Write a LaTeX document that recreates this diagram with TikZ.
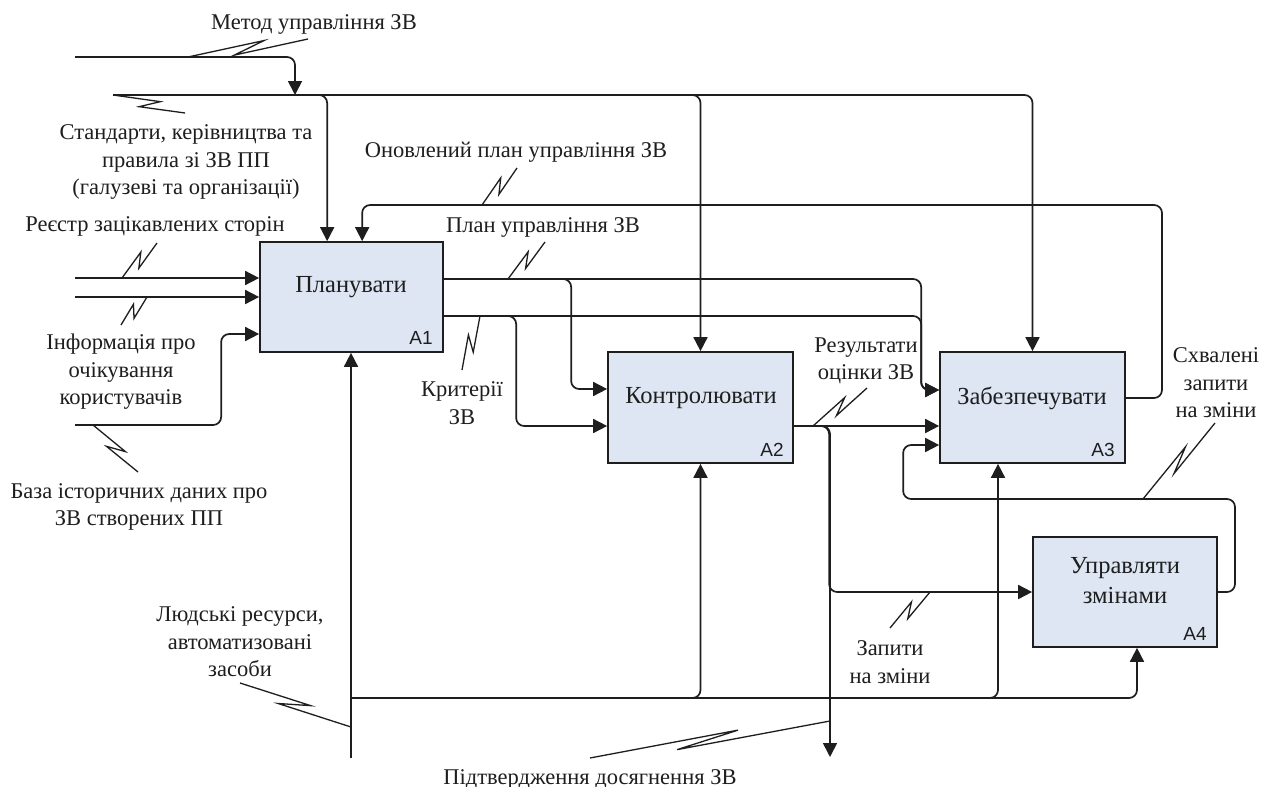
\documentclass[tikz,border=0pt]{standalone}
\usepackage{fontspec}
\setmainfont{Liberation Serif}
\newfontfamily\idsans{Liberation Sans}
\usetikzlibrary{arrows.meta,calc}
\definecolor{boxfill}{RGB}{221,230,242}
\definecolor{ink}{RGB}{30,30,30}

% IDEF0 squiggle tying a label to its arrow
\newcommand{\squig}[2]{%
  \draw[squigline] (#1) -- ($(#1)!0.64!(#2)!5pt!90:(#2)$)
    -- ($(#1)!0.38!(#2)!5pt!-90:(#2)$) -- (#2);}

\begin{document}
\begin{tikzpicture}[x=1pt,y=-1pt,
  flow/.style={line width=1.7pt, draw=ink, rounded corners=8pt},
  arr/.style={flow, -{Triangle[length=14pt,width=14pt]}},
  squigline/.style={line width=1.3pt, draw=ink, line join=miter},
  fbox/.style={draw=ink, line width=1.7pt, fill=boxfill, inner sep=0pt},
  lbl/.style={font=\fontsize{22.5}{27.5}\selectfont, align=center, inner sep=0pt, text=ink},
  boxlbl/.style={font=\fontsize{24.5}{30}\selectfont, align=center, inner sep=0pt, text=ink},
  num/.style={font=\idsans\fontsize{19}{20}\selectfont, inner sep=0pt, text=ink}]

\useasboundingbox[fill=white] (0,0) rectangle (1275,787);

% activity boxes
\node[fbox, minimum width=183pt, minimum height=110pt] (a1) at (351.5,297) {};
\node[fbox, minimum width=185pt, minimum height=111pt] (a2) at (700.5,407.5) {};
\node[fbox, minimum width=185pt, minimum height=111pt] (a3) at (1032.5,407.5) {};
\node[fbox, minimum width=184pt, minimum height=110pt] (a4) at (1125,592) {};

\node[boxlbl] (t1) at (351,287) {Планувати};
\node[boxlbl] (t2) at (701,398) {Контролювати};
\node[boxlbl] (t3) at (1032,398) {Забезпечувати};
\node[boxlbl] (t4) at (1125,581) {Управляти\\змінами};

\node[num] (n1) at (421,338) {A1};
\node[num] (n2) at (772,450) {A2};
\node[num] (n3) at (1103,450) {A3};
\node[num] (n4) at (1195,634) {A4};

% boundary ends of the arrows
\coordinate (metod) at (75,57);
\coordinate (mj) at (295,95);
\coordinate (std) at (113,95);
\coordinate (reg) at (75,278);
\coordinate (info) at (75,297);
\coordinate (base) at (75,425);
\coordinate (res) at (351,758);
\coordinate (mj2) at (351,698);
\coordinate (conf) at (830,757);

% ports on the boxes
\coordinate (a1c1) at ($(a1.north west)+(68,0)$);
\coordinate (a1c2) at ($(a1.north west)+(103,0)$);
\coordinate (a1i3) at ($(a1.west)+(0,37)$);
\coordinate (o1) at ($(a1.east)+(0,-18)$);
\coordinate (o2) at ($(a1.east)+(0,19)$);
\coordinate (a2i1) at ($(a2.west)+(0,-18.5)$);
\coordinate (a2i2) at ($(a2.west)+(0,18.5)$);
\coordinate (a2o) at ($(a2.east)+(0,18.5)$);
\coordinate (a3i1) at ($(a3.west)+(0,-17.5)$);
\coordinate (a3i2) at ($(a3.west)+(0,18.5)$);
\coordinate (a3i3) at ($(a3.west)+(0,37.5)$);
\coordinate (a3o) at ($(a3.east)+(0,-9.5)$);
\coordinate (a3m) at ($(a3.south)+(-34.5,0)$);
\coordinate (a4m) at ($(a4.south)+(12,0)$);

% controls
\draw[arr] (metod) -| (mj);
\draw[arr] (std) -| (a1c1);
\draw[arr] (std) -| (a2.north);
\draw[arr] (std) -| (a3.north);
\draw[arr] (a3o) -| (1162,205) -| (a1c2);

% inputs of A1
\draw[arr] (reg) -- (reg -| a1.west);
\draw[arr] (info) -- (info -| a1.west);
\draw[arr] (base) -| ($(a1i3)+(-38,0)$) -- (a1i3);

% outputs of A1
\draw[arr] (o1) -| ($(a3i1)+(-18,0)$) -- (a3i1);
\draw[arr] (o2) -| ($(a3i1)+(-18,0)$) -- (a3i1);
\draw[arr] (o1) -| ($(a2i1)+(-36,0)$) -- (a2i1);
\draw[arr] (o2) -| ($(a2i2)+(-91,0)$) -- (a2i2);

% outputs of A2
\draw[arr] (a2o) -- (a3i2);
\draw[arr] (a2o) -| (conf);
\draw[arr] (a2o) -| ($(a4.west)+(-203,0)$) -- (a4.west);

% output of A4 back to A3
\draw[arr] (a4.east) -| (1235,499) -| ($(a3i3)+(-36,0)$) -- (a3i3);

% mechanisms
\draw[arr] (res) -- (res |- a1.south);
\draw[arr] (mj2) -| (a2.south);
\draw[arr] (mj2) -| (a3m);
\draw[arr] (mj2) -| (a4m);

% squiggles
\coordinate (q1a) at (188,57);   \coordinate (q1b) at (308,39);
\coordinate (q2a) at (113,95);   \coordinate (q2b) at (185,113);
\coordinate (q3a) at (482,205);  \coordinate (q3b) at (517,168);
\coordinate (q4a) at (122,278);  \coordinate (q4b) at (157,243);
\coordinate (q5a) at (147,297);  \coordinate (q5b) at (121,325);
\coordinate (q6a) at (93,425);   \coordinate (q6b) at (138,472);
\coordinate (q7a) at (508,279);  \coordinate (q7b) at (545,242);
\coordinate (q8a) at (480,316);  \coordinate (q8b) at (462,370);
\coordinate (q9a) at (813,426);  \coordinate (q9b) at (867,388);
\coordinate (q10a) at (930,592); \coordinate (q10b) at (890,628);
\coordinate (q11a) at (1143,499);\coordinate (q11b) at (1215,423);
\coordinate (q12a) at (351,727); \coordinate (q12b) at (240,683);
\coordinate (q13a) at (830,721); \coordinate (q13b) at (590,758);
\squig{q1a}{q1b}
\squig{q2a}{q2b}
\squig{q3a}{q3b}
\squig{q4a}{q4b}
\squig{q5a}{q5b}
\squig{q6a}{q6b}
\squig{q7a}{q7b}
\squig{q8a}{q8b}
\squig{q9a}{q9b}
\squig{q10a}{q10b}
\squig{q11a}{q11b}
\squig{q12a}{q12b}
\squig{q13a}{q13b}

% arrow labels
\node[lbl] (l1) at (314,24) {Метод управління ЗВ};
\node[lbl] (l2) at (186,162) {Стандарти, керівництва та\\правила зі ЗВ ПП\\(галузеві та організації)};
\node[lbl] (l3) at (516,152) {Оновлений план управління ЗВ};
\node[lbl] (l4) at (155,226) {Реєстр зацікавлених сторін};
\node[lbl] (l5) at (543,227) {План управління ЗВ};
\node[lbl] (l6) at (121,372) {Інформація про\\очікування\\користувачів};
\node[lbl] (l7) at (139,507) {База історичних даних про\\ЗВ створених ПП};
\node[lbl] (l8) at (462,403) {Критерії\\ЗВ};
\node[lbl] (l9) at (866,361) {Результати\\оцінки ЗВ};
\node[lbl] (l10) at (1216,383) {Схвалені\\запити\\на зміни};
\node[lbl] (l11) at (240,642) {Людські ресурси,\\автоматизовані\\засоби};
\node[lbl] (l12) at (890,662) {Запити\\на зміни};
\node[lbl] (l13) at (590,779) {Підтвердження досягнення ЗВ};
\end{tikzpicture}
\end{document}
